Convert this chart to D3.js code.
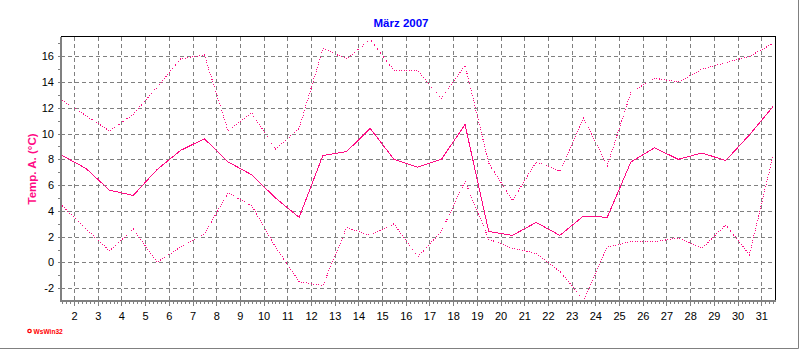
<!DOCTYPE html>
<html>
<head>
<meta charset="utf-8">
<script src="https://cdn.jsdelivr.net/npm/d3@7"></script>
<style>
  body { margin: 0; background: #fff; }
  svg { display: block; font-family: "Liberation Sans", Arial, sans-serif; }
</style>
</head>
<body>
<div id="chart"></div>
<script>
// Tageswerte März 2007, Punkt jeweils um 12 Uhr
const days = [1, 2, 3, 4, 5, 6, 7, 8, 9, 10, 11, 12, 13, 14, 15, 16, 17, 18, 19, 20, 21, 22, 23, 24, 25, 26, 27, 28, 29, 30, 31]
const tMax = [12.6, 11.4, 10.2, 11.5, 13.6, 15.8, 16.1, 10.2, 11.6, 8.8, 10.4, 16.6, 15.8, 17.3, 14.9, 14.9, 12.7, 15.3, 7.7, 4.8, 7.8, 7.1, 11.2, 7.5, 13.2, 14.3, 14.0, 15.0, 15.5, 16.0, 17.0]
const tMean = [8.3, 7.3, 5.6, 5.2, 7.2, 8.7, 9.6, 7.8, 6.8, 5.0, 3.5, 8.3, 8.6, 10.4, 8.0, 7.4, 8.0, 10.7, 2.4, 2.1, 3.1, 2.1, 3.6, 3.5, 7.8, 8.9, 8.0, 8.5, 7.9, 9.9, 12.1]
const tMin = [4.4, 2.6, 0.9, 2.6, 0.0, 1.2, 2.2, 5.4, 4.4, 1.2, -1.5, -1.8, 2.7, 2.1, 3.0, 0.4, 2.4, 6.3, 1.8, 1.1, 0.7, -0.7, -2.9, 1.2, 1.6, 1.6, 1.9, 1.1, 2.9, 0.6, 8.3]

const yTickLabels = [-2, 0, 2, 4, 6, 8, 10, 12, 14, 16]
const xTickLabels = [2, 3, 4, 5, 6, 7, 8, 9, 10, 11, 12, 13, 14, 15, 16, 17, 18, 19, 20, 21, 22, 23, 24, 25, 26, 27, 28, 29, 30, 31]

const title = "März 2007"
const yTitle = "Temp. A. (°C)"
const lineColor = "#ff0a84"
const gridColor = "#808080"

const width = 800, height = 350
const plot = { left: 61, right: 775, top: 37, bottom: 300 }

const svg = d3.select("#chart")
  .append("svg")
    .attr("width", width)
    .attr("height", height)

svg.append("rect")
  .attr("width", width)
  .attr("height", height)
  .attr("fill", "#fff")

// x in Tagen, y in °C
const x = d3.scaleLinear().domain([1.45, 31.58]).range([plot.left, plot.right])
const y = d3.scaleLinear().domain([-2.92, 17.5]).range([plot.bottom, plot.top])

// Gitter (gestrichelt)
const grid = svg.append("g").attr("id", "grid")
  .attr("stroke", gridColor)
  .attr("stroke-dasharray", "4,3")
  .attr("shape-rendering", "crispEdges")

grid.selectAll("line.h")
  .data(yTickLabels)
  .enter()
  .append("line")
    .attr("class", "h")
    .attr("x1", plot.left)
    .attr("x2", plot.right)
    .attr("y1", d => Math.round(y(d)) + 0.5)
    .attr("y2", d => Math.round(y(d)) + 0.5)

grid.selectAll("line.v")
  .data(xTickLabels)
  .enter()
  .append("line")
    .attr("class", "v")
    .attr("y1", plot.top)
    .attr("y2", plot.bottom)
    .attr("x1", d => Math.round(x(d)) + 0.5)
    .attr("x2", d => Math.round(x(d)) + 0.5)

// Rahmen oben / rechts schwarz
svg.append("path")
  .attr("d", `M${plot.left},${plot.top - 0.5}H${plot.right + 0.5}V${plot.bottom + 1}`)
  .attr("fill", "none")
  .attr("stroke", "#000")
  .attr("shape-rendering", "crispEdges")

// Achsen
const yAxis = svg.append("g")
  .attr("transform", `translate(${plot.left - 1},0)`)
  .call(d3.axisLeft(y)
    .tickValues(d3.range(-2, 18, 1))
    .tickSize(2)
    .tickPadding(4)
    .tickFormat(d => yTickLabels.includes(d) ? String(d) : ""))
yAxis.select(".domain").remove()

const xMinor = svg.append("g")
  .attr("transform", `translate(0,${plot.bottom + 2})`)
  .call(d3.axisBottom(x)
    .tickValues(d3.range(1.5, 31.6, 1 / 6))
    .tickSize(2)
    .tickFormat(""))
xMinor.select(".domain").remove()

const xAxis = svg.append("g")
  .attr("transform", `translate(0,${plot.bottom + 2})`)
  .call(d3.axisBottom(x)
    .tickValues(xTickLabels)
    .tickSize(4)
    .tickPadding(6)
    .tickFormat(d => String(d)))
xAxis.select(".domain").remove()

svg.selectAll(".tick line")
  .attr("stroke", gridColor)
  .attr("shape-rendering", "crispEdges")
svg.selectAll(".tick text")
  .attr("fill", "#000")
  .style("font-size", "11px")
  .style("font-family", "'Liberation Sans', Arial, sans-serif")

// dicke graue Achslinien
svg.append("rect")
  .attr("x", plot.left - 1).attr("y", plot.top)
  .attr("width", 2).attr("height", plot.bottom - plot.top + 2)
  .attr("fill", gridColor)
svg.append("rect")
  .attr("x", plot.left - 1).attr("y", plot.bottom)
  .attr("width", plot.right - plot.left + 2).attr("height", 2)
  .attr("fill", gridColor)

// Kurven: Max / Min gepunktet, Mittel durchgezogen
const line = d3.line()
  .x((d, i) => x(days[i] + 0.5))
  .y(d => y(d))

const series = [
  { name: "max", values: tMax, dash: "1,1.5" },
  { name: "min", values: tMin, dash: "1,1.5" },
  { name: "mean", values: tMean, dash: null }
]

svg.append("g")
  .attr("id", "lines")
  .selectAll("path")
  .data(series)
  .enter()
  .append("path")
    .attr("d", d => line(d.values))
    .attr("fill", "none")
    .attr("stroke", lineColor)
    .attr("stroke-width", 1)
    .attr("stroke-dasharray", d => d.dash)
    .attr("shape-rendering", "crispEdges")

// Titel
svg.append("text")
  .attr("x", 401)
  .attr("y", 27.3)
  .attr("text-anchor", "middle")
  .style("font-size", "11.5px")
  .style("font-weight", "bold")
  .style("fill", "#0000ff")
  .text(title)

svg.append("text")
  .attr("transform", "translate(36,169) rotate(-90)")
  .attr("text-anchor", "middle")
  .style("font-size", "11.5px")
  .style("font-weight", "bold")
  .style("fill", lineColor)
  .text(yTitle)

// Logo unten links
svg.append("circle")
  .attr("cx", 29.5).attr("cy", 331)
  .attr("r", 1.7)
  .attr("fill", "#fff")
  .attr("stroke", "#ff0000")
  .attr("stroke-width", 1.3)
svg.append("text")
  .attr("x", 33.5)
  .attr("y", 333.6)
  .style("font-size", "6.6px")
  .style("font-weight", "bold")
  .style("fill", "#ff0000")
  .text("WsWin32")

// äußerer Rahmen rechts / unten
svg.append("path")
  .attr("d", `M${width - 1.5},0V${height - 1.5}H0`)
  .attr("fill", "none")
  .attr("stroke", gridColor)
  .attr("stroke-width", 1)
</script>
</body>
</html>
